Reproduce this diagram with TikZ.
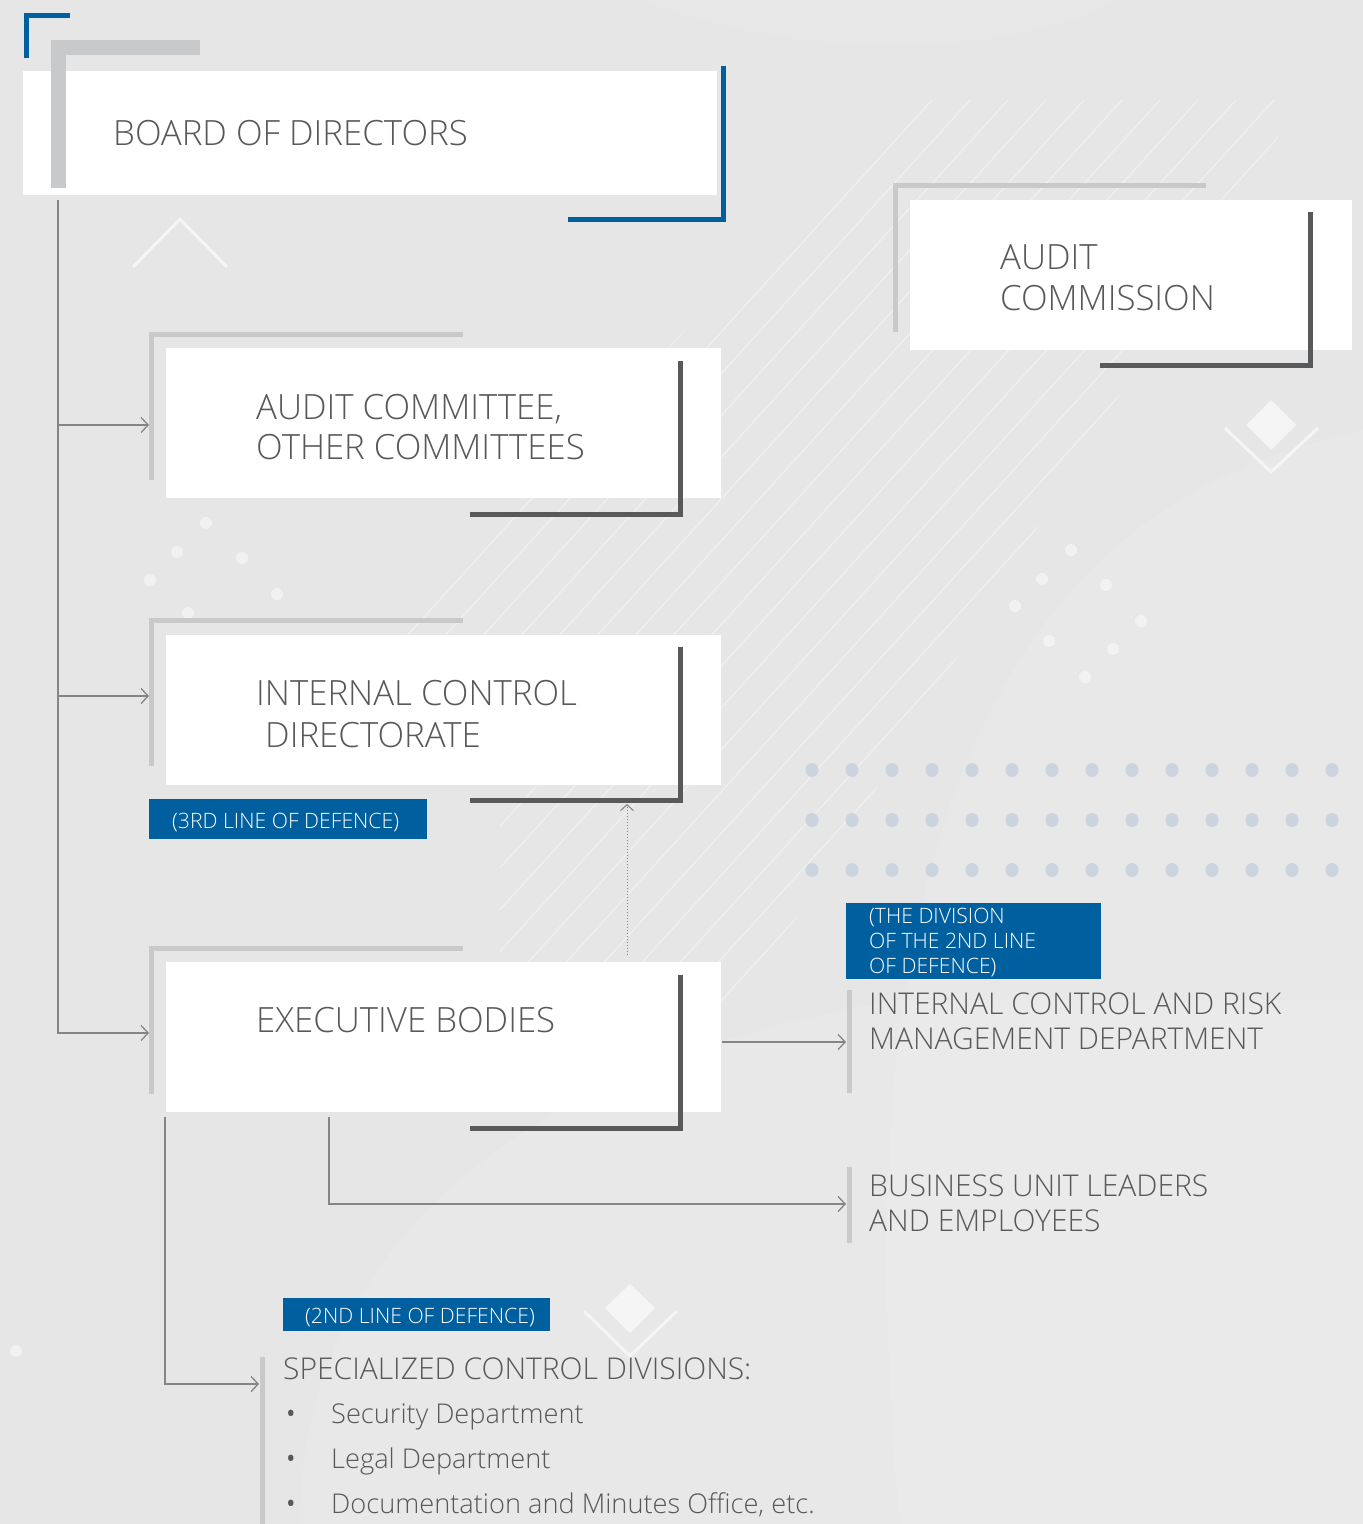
\documentclass[tikz,border=0pt]{standalone}
\usepackage{fontspec}
\setmainfont{Open Sans}[UprightFont={* Light}]
\usetikzlibrary{arrows.meta,calc}
\definecolor{bg}{HTML}{E6E6E6}
\definecolor{cblue}{HTML}{005F9E}
\definecolor{lgray}{HTML}{C8C9CB}
\definecolor{dgray}{HTML}{58595B}
\definecolor{txt}{HTML}{58585A}
\definecolor{conn}{HTML}{858585}
\definecolor{dotc}{HTML}{CBD4DE}
\newcommand{\bulitem}{\makebox[47pt][l]{\raisebox{-3pt}{\fontsize{36}{36}\selectfont •}}}
\begin{document}
\begin{tikzpicture}[x=1pt,y=-1pt,line join=miter,
  wbox/.style={fill=white,draw=none,inner sep=0,anchor=north west},
  bluebox/.style={fill=cblue,draw=none,inner sep=0,anchor=north west},
  lcorner/.style={draw=lgray,line width=5pt},
  thickcorner/.style={draw=lgray,line width=15pt},
  dcorner/.style={draw=dgray,line width=5pt},
  bcorner/.style={draw=cblue,line width=5pt},
  sidebar/.style={draw=lgray,line width=5pt},
  cline/.style={draw=conn,line width=1.3pt},
  carrow/.style={cline,-{Straight Barb[length=7pt,width=15pt]}},
  btxt/.style={anchor=north west,inner sep=0,text=txt,align=left,font=\fontsize{34.8}{41}\selectfont},
  stxt/.style={anchor=north west,inner sep=0,text=txt,align=left,font=\fontsize{30}{35}\selectfont},
  ltxt/.style={inner sep=0,text=white,align=left,font=\fontsize{21.2}{25}\selectfont},
  deco/.style={draw=white,draw opacity=0.6,line width=3pt},
  wdot/.style={fill=white,fill opacity=0.45}
]
\useasboundingbox (0,0) rectangle (1363,1524);
\fill[bg] (0,0) rectangle (1363,1524);
% soft lighter areas
\fill[white,opacity=0.11] (900,1524) .. controls (860,1100) and (900,700) .. (1150,520) .. controls (1250,450) and (1363,430) .. (1363,430) -- (1363,1524) -- cycle;
\fill[white,opacity=0.09] (300,1524) .. controls (300,1250) and (520,1060) .. (900,1000) -- (1363,1000) -- (1363,1524) -- cycle;
\fill[white,opacity=0.07] (640,0) .. controls (800,60) and (1000,60) .. (1120,0) -- cycle;
% diagonal faint lines
\begin{scope}
\clip (380,640) -- (1010,0) -- (1363,0) -- (690,1090) -- (500,1090) -- (500,640) -- cycle;
\foreach \i in {0,...,55} {
  \draw[white,opacity=0.4,line width=1.2pt] (-600+\i*38,1200) -- ++(1000,-1100);
}
\end{scope}
% chevrons and diamonds
\draw[deco] (133,267) -- (180,219) -- (227,267);
\fill[white,opacity=0.6] (1271,400) -- (1296,425) -- (1271,450) -- (1246,425) -- cycle;
\draw[deco] (1225,428) -- (1271,472) -- (1318,428);
\fill[white,opacity=0.6] (630,1284) -- (655,1308) -- (630,1333) -- (605,1308) -- cycle;
\draw[deco] (584,1311) -- (630,1356) -- (677,1311);
% faint white dots
\foreach \p in {(206,523),(177,552),(242,558),(150,580),(277,594),(188,613),
                (1071,550),(1042,579),(1106,585),(1015,606),(1141,621),(1049,641),(1113,649),(1085,677),(16,1351)}
  \fill[wdot] \p circle[radius=6];
% blue-grey dot grid
\foreach \r in {770,820,870} {
  \foreach \c in {0,...,13} {
    \fill[dotc] (812+\c*40,\r) ellipse[x radius=6.5,y radius=7];
  }
}
% white boxes
\node[wbox,minimum width=694,minimum height=124] (board) at (23,71) {};
\node[wbox,minimum width=442,minimum height=150] (comm) at (910,200) {};
\node[wbox,minimum width=555,minimum height=150] (comt) at (166,348) {};
\node[wbox,minimum width=555,minimum height=150] (icd) at (166,635) {};
\node[wbox,minimum width=555,minimum height=150] (exec) at (166,962) {};
% corners
\draw[bcorner] (26.5,58) -- (26.5,15.5) -- (70,15.5);
\draw[thickcorner] (58.5,188) -- (58.5,47) -- (200,47);
\draw[bcorner] (568,219.5) -- (723.5,219.5) -- (723.5,66);
\draw[lcorner] (895.5,332) -- (895.5,185.5) -- (1206,185.5);
\draw[dcorner] (1100,365.5) -- (1310.5,365.5) -- (1310.5,212);
\draw[lcorner] (151.5,480) -- (151.5,334.5) -- (463,334.5);
\draw[dcorner] (470,514.5) -- (680.5,514.5) -- (680.5,361);
\draw[lcorner] (151.5,766) -- (151.5,620.5) -- (463,620.5);
\draw[dcorner] (470,800.5) -- (680.5,800.5) -- (680.5,647);
\draw[lcorner] (151.5,1094) -- (151.5,948.5) -- (463,948.5);
\draw[dcorner] (470,1128.5) -- (680.5,1128.5) -- (680.5,975);
% side bars
\draw[sidebar] (849.5,990) -- (849.5,1093);
\draw[sidebar] (849.5,1167) -- (849.5,1243);
\draw[sidebar] (262.5,1357) -- (262.5,1524);
% blue labels
\node[bluebox,minimum width=278,minimum height=40] (lab3) at (149,799) {};
\node[bluebox,minimum width=255,minimum height=76] (labdiv) at (846,903) {};
\node[bluebox,minimum width=267,minimum height=33] (lab2) at (283,1298) {};
\node[ltxt,anchor=base west] (tlab3) at (172,828) {(3RD LINE OF DEFENCE)};
\node[ltxt,anchor=north west] (tlabdiv) at (869,908) {(THE DIVISION\\OF THE 2ND LINE\\OF DEFENCE)};
\node[ltxt,anchor=base west] (tlab2) at (305,1323) {(2ND LINE OF DEFENCE)};
% texts
\node[btxt] (tboard) at (113,120) {BOARD OF DIRECTORS};
\node[btxt] (tcomm) at (1000,244) {AUDIT\\COMMISSION};
\node[btxt,font=\fontsize{34.8}{40}\selectfont] (tcomt) at (256,394) {AUDIT COMMITTEE,\\OTHER COMMITTEES};
\node[btxt,font=\fontsize{34.8}{42}\selectfont] (ticd) at (256,680) {INTERNAL CONTROL\\\hspace*{9pt}DIRECTORATE};
\node[btxt] (texec) at (256,1007) {EXECUTIVE BODIES};
\node[stxt] (ticrm) at (869,993) {INTERNAL CONTROL AND RISK\\MANAGEMENT DEPARTMENT};
\node[stxt] (tbus) at (869,1175) {BUSINESS UNIT LEADERS\\AND EMPLOYEES};
\node[stxt] (tspec) at (283,1358) {SPECIALIZED CONTROL DIVISIONS:};
\node[anchor=north west,inner sep=0,text=txt,align=left,font=\fontsize{27.2}{45}\selectfont] (tbul) at (284,1404)
  {\bulitem Security Department\\\bulitem Legal Department\\\bulitem Documentation and Minutes Office, etc.};
% connector points
\coordinate (t0) at (58,200);
\coordinate (t1) at (58,425);
\coordinate (t2) at (58,696);
\coordinate (t3) at (58,1033);
\coordinate (a1) at (149,425);
\coordinate (a2) at (149,696);
\coordinate (a3) at (149,1033);
\coordinate (e0) at (722,1042);
\coordinate (e1) at (846,1042);
\coordinate (b0) at (329,1117);
\coordinate (b1) at (329,1204);
\coordinate (b2) at (846,1204);
\coordinate (s0) at (165,1117);
\coordinate (s1) at (165,1384);
\coordinate (s2) at (259,1384);
\coordinate (d0) at (627,955);
\coordinate (d1) at (627,804);
% connectors
\draw[carrow] (t0) -- (t3) -- (a3);
\draw[carrow] (t1) -- (a1);
\draw[carrow] (t2) -- (a2);
\draw[carrow] (e0) -- (e1);
\draw[carrow] (b0) -- (b1) -- (b2);
\draw[carrow] (s0) -- (s1) -- (s2);
\draw[draw=conn,line width=1pt,dotted,-{Straight Barb[length=6pt,width=13pt]}] (d0) -- (d1);
\end{tikzpicture}
\end{document}
